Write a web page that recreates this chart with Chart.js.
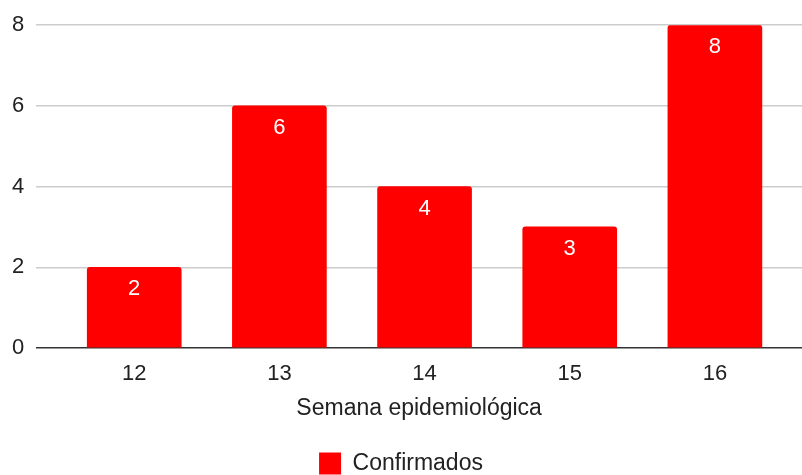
<!DOCTYPE html>
<html>
<head>
<meta charset="utf-8">
<script src="https://cdn.jsdelivr.net/npm/chart.js@4"></script>
<style>
  html, body { margin: 0; padding: 0; background: #fff; overflow: hidden; }
  #wrap { width: 802px; height: 485px; }
</style>
</head>
<body>
<div id="wrap"><canvas id="chart"></canvas></div>
<script>
// ── Data ────────────────────────────────────────────────────────────
const semanas = [12, 13, 14, 15, 16];
const confirmados = [2, 6, 4, 3, 8];
const yTicks = [0, 2, 4, 6, 8];

const FONT = '"Liberation Sans", Arial, sans-serif';
const FS = 22;      // numbers
const FS_TXT = 23;  // title + legend

// white value labels inside bar tops
const barLabels = {
    id: 'barLabels',
    afterDatasetsDraw(chart) {
        const ctx = chart.ctx;
        const meta = chart.getDatasetMeta(0);
        ctx.save();
        ctx.fillStyle = '#fff';
        ctx.font = FS + 'px ' + FONT;
        ctx.textAlign = 'center';
        ctx.textBaseline = 'middle';
        meta.data.forEach((bar, i) => {
            ctx.fillText(String(confirmados[i]), bar.x, bar.y + 22);
        });
        ctx.restore();
    }
};

new Chart(document.getElementById('chart'), {
    type: 'bar',
    data: {
        datasets: [{
            label: 'Confirmados',
            data: semanas.map((s, i) => ({ x: s, y: confirmados[i] })),
            backgroundColor: '#ff0000',
            borderWidth: 0,
            borderRadius: { topLeft: 3, topRight: 3 },
            borderSkipped: 'bottom',
            barThickness: 94
        }]
    },
    options: {
        responsive: true,
        maintainAspectRatio: false,
        animation: false,
        layout: { padding: { top: 24, right: 0, left: 0, bottom: 0 } },
        plugins: {
            tooltip: { enabled: false },
            legend: {
                position: 'bottom',
                labels: {
                    boxWidth: 22,
                    boxHeight: 22,
                    padding: 10,
                    color: '#222',
                    font: { family: FONT, size: FS_TXT }
                }
            }
        },
        scales: {
            x: {
                type: 'linear',
                offset: false,
                min: 11.325,
                max: 16.6,
                afterBuildTicks: scale => { scale.ticks = semanas.map(v => ({ value: v })); },
                afterFit: scale => { scale.height -= 3; },
                grid: { display: false, drawTicks: false },
                border: { display: false },
                ticks: {
                    color: '#222',
                    padding: 15,
                    maxRotation: 0,
                    font: { family: FONT, size: FS, lineHeight: 1 },
                    callback: v => String(v)
                },
                title: {
                    display: true,
                    text: 'Semana epidemiológica',
                    color: '#222',
                    font: { family: FONT, size: FS_TXT, lineHeight: 1 },
                    padding: { top: 0, bottom: 22 }
                }
            },
            y: {
                min: 0,
                max: 8,
                afterBuildTicks: scale => { scale.ticks = yTicks.map(v => ({ value: v })); },
                grid: {
                    drawTicks: false,
                    color: c => c.tick.value === 0 ? '#333' : '#ccc',
                    lineWidth: 1.5
                },
                border: { display: false },
                ticks: {
                    color: '#222',
                    padding: 12,
                    font: { family: FONT, size: FS }
                }
            }
        }
    },
    plugins: [barLabels]
});
</script>
</body>
</html>
